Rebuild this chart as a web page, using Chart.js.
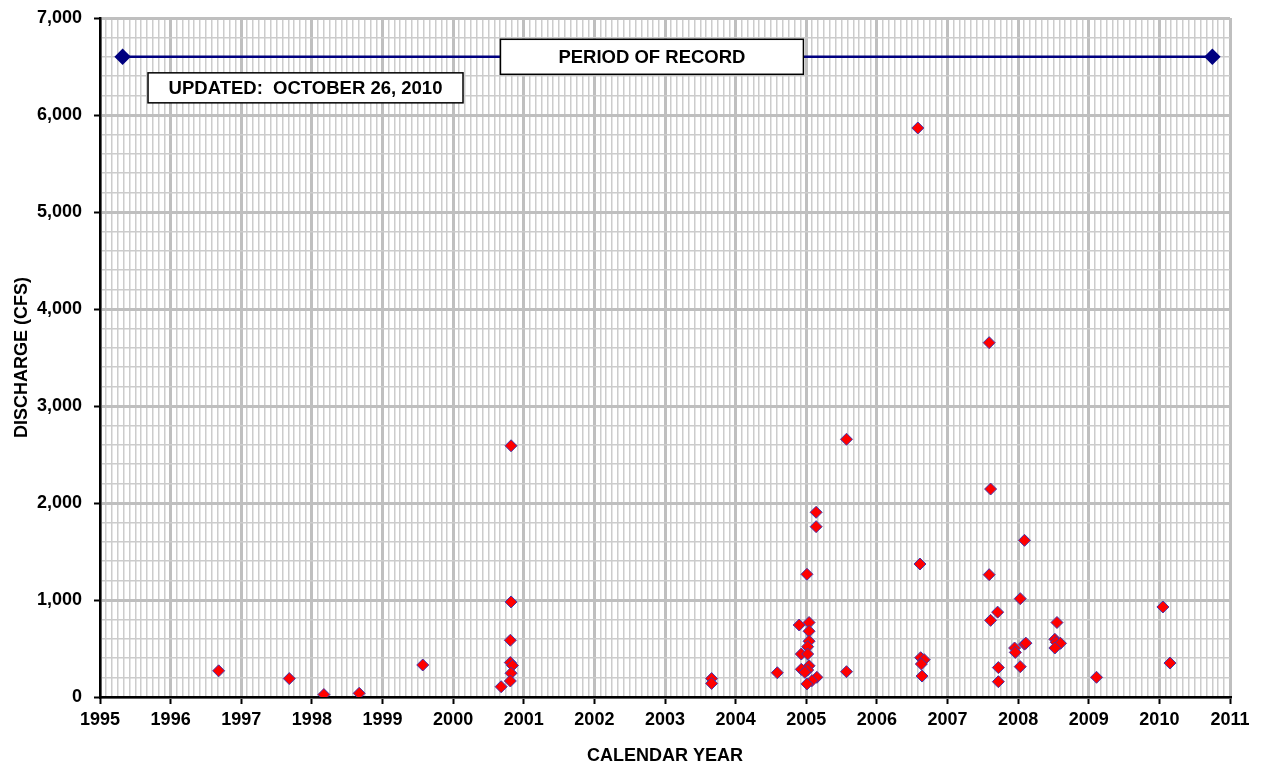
<!DOCTYPE html>
<html>
<head>
<meta charset="utf-8">
<script src="https://cdn.jsdelivr.net/npm/chart.js@4"></script>
<style>
  body { margin: 0; background: #fff; }
</style>
</head>
<body>
<canvas id="myChart" width="1264" height="769"></canvas>
<script>
// measurement dates (decimal years) and discharge (cfs)
var sampleYears = [1996.68, 1997.68, 1998.17, 1998.67, 1999.57,
  2000.68, 2000.82, 2000.82, 2000.81, 2000.81, 2000.84, 2000.82, 2000.81,
  2003.66, 2003.66, 2004.59,
  2004.90, 2005.04, 2005.04, 2005.04, 2005.02, 2004.93, 2005.02, 2005.04, 2004.93, 2005.02, 2004.98, 2005.15, 2005.08, 2005.01, 2005.01, 2005.14, 2005.14,
  2005.57, 2005.57,
  2006.58, 2006.61, 2006.62, 2006.67, 2006.63, 2006.64,
  2007.59, 2007.61, 2007.59, 2007.61, 2007.71, 2007.72, 2007.72, 2007.95, 2007.96,
  2008.03, 2008.03, 2008.09, 2008.09, 2008.11,
  2008.55, 2008.52, 2008.54, 2008.60, 2008.52,
  2009.11, 2010.05, 2010.15];
var sampleCfs = [270, 190, 25, 38, 330,
  106, 2590, 980, 585, 355, 325, 245, 165,
  190, 140, 250,
  742, 768, 678, 575, 519, 443, 443, 322, 285, 278, 255, 203, 168, 135, 1265, 1904, 1756,
  2657, 261,
  5866, 1371, 405, 385, 340, 216,
  3653, 2144, 1261, 790, 875, 303, 158, 505, 460,
  1014, 313, 1615, 545, 555,
  768, 595, 565, 553, 505,
  203, 928, 350];

// period of record bar
var periodYears = [1995.32, 2010.75];
var periodLevel = 6600;

var firstYear = 1995, lastYear = 2011;
var yMax = 7000;

var titleFont = { family: 'Liberation Sans, Arial, sans-serif', size: 18, weight: 'bold' };

var points = sampleYears.map(function (y, i) { return { x: y, y: sampleCfs[i] }; });
var period = periodYears.map(function (y) { return { x: y, y: periodLevel }; });

var boxes = {
  id: 'boxes',
  afterDatasetsDraw: function (chart) {
    var c = chart.ctx, xs = chart.scales.x, ys = chart.scales.y;
    function box(text, x0, x1, yc, h) {
      var l = xs.getPixelForValue(x0), r = xs.getPixelForValue(x1), m = ys.getPixelForValue(yc);
      c.save();
      c.fillStyle = '#fff';
      c.strokeStyle = '#000';
      c.lineWidth = 1.5;
      c.fillRect(l, m - h / 2, r - l, h);
      c.strokeRect(l, m - h / 2, r - l, h);
      c.fillStyle = '#000';
      c.font = 'bold 18.5px "Liberation Sans", Arial, sans-serif';
      c.textAlign = 'center';
      c.textBaseline = 'middle';
      c.fillText(text, (l + r) / 2, m + 1);
      c.restore();
    }
    box('PERIOD OF RECORD', 2000.67, 2004.96, periodLevel, 35);
    box('UPDATED:  OCTOBER 26, 2010', 1995.68, 2000.14, 6280, 30);
  }
};

var ctx = document.getElementById('myChart').getContext('2d');
var chart = new Chart(ctx, {
  type: 'scatter',
  data: {
    datasets: [{
      label: 'Period of record',
      data: period,
      showLine: true,
      borderColor: '#000080',
      borderWidth: 2.5,
      pointStyle: 'rectRot',
      pointRadius: 6.5,
      pointBackgroundColor: '#000080',
      pointBorderColor: '#000080'
    }, {
      label: 'Discharge',
      data: points,
      pointStyle: 'rectRot',
      pointRadius: 6,
      pointBorderWidth: 1,
      pointBackgroundColor: '#ff0000',
      pointBorderColor: '#4433aa'
    }]
  },
  options: {
    responsive: false,
    animation: false,
    layout: { padding: { top: 18, right: 34, bottom: 0, left: 0 } },
    plugins: { legend: { display: false }, tooltip: { enabled: false } },
    scales: {
      x: {
        type: 'linear',
        min: firstYear,
        max: lastYear,
        afterBuildTicks: function (s) {
          var t = [];
          for (var i = 0; i <= (lastYear - firstYear) * 12; i++) t.push({ value: firstYear + i / 12 });
          s.ticks = t;
        },
        afterFit: function (s) { s.height = 72; },
        border: { color: '#000', width: 2.5 },
        grid: {
          color: function (c) { return c.index % 12 === 0 ? '#bfbfbf' : '#cccccc'; },
          lineWidth: function (c) { return c.index % 12 === 0 ? 3 : 1.5; },
          tickColor: function (c) { return c.index % 12 === 0 ? '#000' : 'rgba(0,0,0,0)'; },
          tickWidth: 2,
          tickLength: 7
        },
        ticks: {
          autoSkip: false,
          maxRotation: 0,
          padding: 5,
          color: '#000',
          font: titleFont,
          callback: function (v, i) { return i % 12 === 0 ? String(Math.round(v)) : ''; }
        },
        title: { display: true, text: 'CALENDAR YEAR', color: '#000', font: titleFont, padding: { top: 0, bottom: 2 } }
      },
      y: {
        min: 0,
        max: yMax,
        afterFit: function (s) { s.width = 100; s.paddingTop = 0; s.paddingBottom = 0; },
        border: { color: '#000', width: 2.5 },
        grid: {
          color: function (c) { return c.tick.value % 1000 === 0 ? '#bfbfbf' : '#cccccc'; },
          lineWidth: function (c) { return c.tick.value % 1000 === 0 ? 3 : 1.5; },
          tickColor: function (c) { return c.tick.value % 1000 === 0 ? '#000' : 'rgba(0,0,0,0)'; },
          tickWidth: 2,
          tickLength: 6
        },
        ticks: {
          stepSize: 200,
          autoSkip: false,
          padding: 12,
          color: '#000',
          font: titleFont,
          callback: function (v) { return v % 1000 === 0 ? v.toLocaleString('en-US') : ''; }
        },
        title: { display: true, text: 'DISCHARGE (CFS)', color: '#000', font: titleFont, padding: { top: 11, bottom: 0 } }
      }
    }
  },
  plugins: [boxes]
});
</script>
</body>
</html>
